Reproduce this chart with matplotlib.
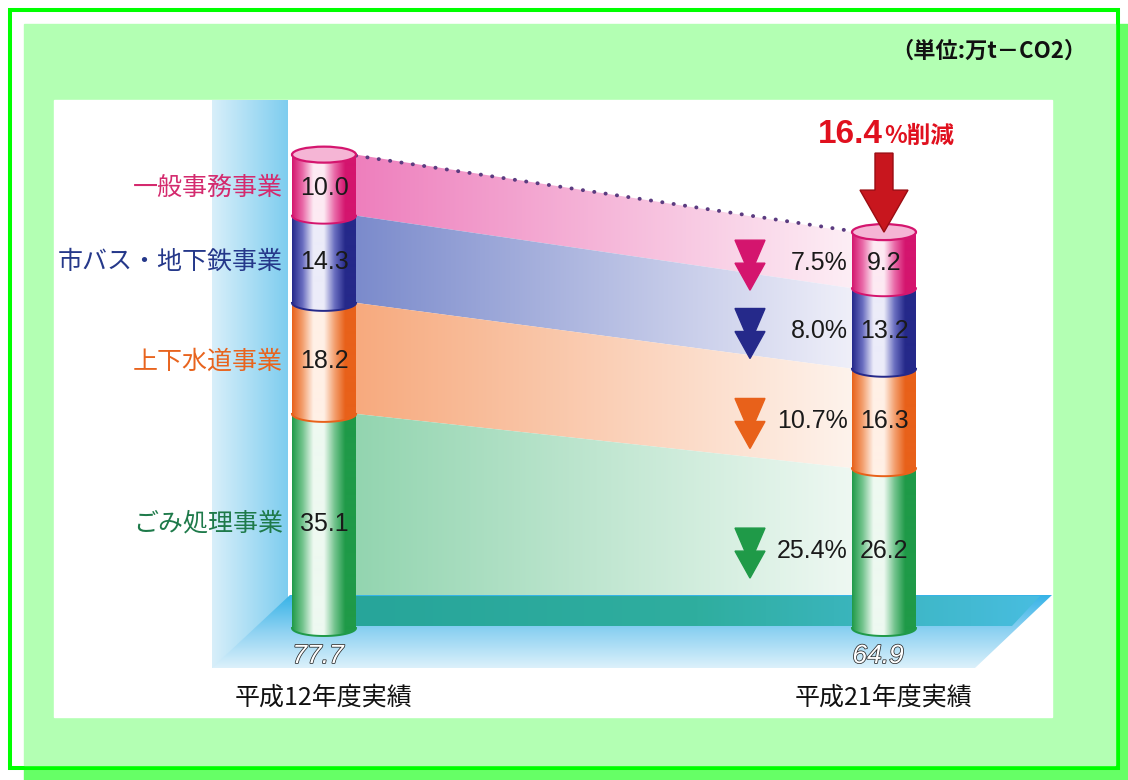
import numpy as np
import matplotlib.pyplot as plt
from matplotlib.patches import Polygon, Rectangle, Ellipse
from matplotlib.colors import LinearSegmentedColormap
import matplotlib.patheffects as pe

# dane (万t-CO2)
categories = ['一般事務事業', '市バス・地下鉄事業', '上下水道事業', 'ごみ処理事業']
years = ['平成12年度実績', '平成21年度実績']
values_h12 = [10.0, 14.3, 18.2, 35.1]
values_h21 = [9.2, 13.2, 16.3, 26.2]
totals = [77.7, 64.9]
cut_pct = [7.5, 8.0, 10.7, 25.4]
total_cut = 16.4
unit_label = '（単位:万t－CO2）'

# kolory
dark = ['#d4156e', '#25298a', '#e8611a', '#1f9a48']
mid = ['#e96aa8', '#6a6ec0', '#f3a070', '#74c48e']
light = ['#fdeaf3', '#ececf9', '#fff0e6', '#eef9f1']
band_left = ['#ee7fbd', '#7b8bcc', '#f7aa7e', '#93d5b0']
band_right = ['#fdeef5', '#efeff9', '#fef3ec', '#eef8f2']
label_col = ['#d42a6e', '#25388a', '#e8641e', '#1e7a4a']

CJK = ['Noto Sans CJK JP', 'DejaVu Sans']
NUM = ['Liberation Sans', 'DejaVu Sans']

# uklad (piksele)
scale = 6.1
base = 628
cxs = [324, 884]
rx, ry = 32, 8

fig = plt.figure(figsize=(11.28, 7.8), dpi=100)
ax = fig.add_axes([0, 0, 1, 1])
ax.axis('off')


def grad_fill(patch, x0, x1, y0, y1, colors, horizontal=True, z=3):
    patch.set_facecolor('none')
    patch.set_edgecolor('none')
    patch.set_zorder(z)
    ax.add_patch(patch)
    cmap = LinearSegmentedColormap.from_list('g', colors)
    arr = np.linspace(0, 1, 256)
    arr = arr.reshape(1, -1) if horizontal else arr.reshape(-1, 1)
    im = ax.imshow(arr, cmap=cmap, extent=(x0, x1, y1, y0), aspect='auto',
                   zorder=z, interpolation='bilinear')
    im.set_clip_path(patch)


#tlo ramki
ax.add_patch(Rectangle((24, 24), 1104, 756, color='#66ff66', zorder=0))
ax.add_patch(Rectangle((10, 10), 1108, 758, facecolor='white', edgecolor='#00ff00', lw=2.9, zorder=0.5))
ax.add_patch(Rectangle((24, 24), 1091, 741, color='#b3ffb3', zorder=0.6))
ax.add_patch(Rectangle((54, 100), 998, 617, color='white', zorder=0.7))

#sciana i podloga
grad_fill(Rectangle((212, 100), 76, 568), 212, 288, 100, 668, ['#d8effa', '#7ecdef'], z=1)
grad_fill(Polygon([(290, 595), (1052, 595), (975, 668), (212, 668)]), 212, 1052, 595, 668,
          ['#36b3e7', '#8fd2f2', '#dcf1fb'], horizontal=False, z=4)

# szczyty slupkow
tops_l = base - np.cumsum([0] + values_h12[::-1])[::-1] * scale
tops_r = base - np.cumsum([0] + values_h21[::-1])[::-1] * scale

#pasma miedzy slupkami
xl, xr = cxs[0] + rx, cxs[1] - rx
for i in range(4):
    poly = Polygon([(xl, tops_l[i]), (xr, tops_r[i]), (xr, tops_r[i + 1]), (xl, tops_l[i + 1])])
    grad_fill(poly, xl, xr, 0, 780, [band_left[i], band_right[i]], z=3)

grad_fill(Polygon([(xl, 596), (1040, 596), (1012, 626), (xl, 626)]), xl, 1040, 596, 626,
          ['#27a59a', '#2fae9f', '#48bde0'], z=4.5)

ax.plot([xl, xr], [tops_l[0] + 1, tops_r[0] - 1], color='#5b3b80', lw=2.8,
        linestyle=(0, (0.05, 2.9)), dash_capstyle='round', zorder=6)

#cylindry
th = np.linspace(np.pi, 0, 60)
xs_unit = np.cos(th)
for k, (cx, tops, vals) in enumerate(zip(cxs, [tops_l, tops_r], [values_h12, values_h21])):
    xs = cx + rx * xs_unit
    for i in range(4):
        yt, yb = tops[i], tops[i + 1]
        pts = np.vstack([np.column_stack([xs, yt + ry * np.sin(th)]),
                         np.column_stack([xs[::-1], yb + ry * np.sin(th[::-1])])])
        cmap_cols = [dark[i], mid[i], light[i], light[i], mid[i], dark[i], dark[i]]
        grad_fill(Polygon(pts), cx - rx, cx + rx, 0, 780, cmap_cols, z=7)
        ax.plot(xs, yb + ry * np.sin(th), color=dark[i], lw=1.4, zorder=7.5)
        ax.text(cx, (yt + yb) / 2 + 3, f'{vals[i]:.1f}', ha='center', va='center',
                fontsize=18, family=NUM, color='#1a1a1a', zorder=9)
    ax.add_patch(Ellipse((cx, tops[0]), 2 * rx, 2 * ry, facecolor='#f5b5d5',
                         edgecolor=dark[0], lw=1.6, zorder=8))
    ax.text(cx - 6, 656, f'{totals[k]:.1f}', ha='center', va='center', fontsize=19,
            family=NUM, style='italic', color='white', zorder=9,
            path_effects=[pe.Stroke(linewidth=1.1, foreground='#2a2a2a'), pe.Normal()])
    ax.text(cx, 698, years[k], ha='center', va='center', fontsize=18, family=CJK,
            color='#111111', zorder=9)

#etykiety kategorii
for i in range(4):
    yc = (tops_l[i] + tops_l[i + 1]) / 2 + 3
    ax.text(283, yc, categories[i], ha='right', va='center', fontsize=18,
            family=CJK, color=label_col[i], zorder=9)

#strzalki i procenty
ax_c = 750
for i in range(4):
    yc = (tops_r[i] + tops_r[i + 1]) / 2 + 3
    ax.add_patch(Polygon([(ax_c - 15, yc - 23), (ax_c + 15, yc - 23), (ax_c, yc + 12)],
                         color=dark[i], zorder=8))
    ax.add_patch(Polygon([(ax_c - 15, yc), (ax_c + 15, yc), (ax_c, yc + 27)],
                         color=dark[i], zorder=8))
    ax.text(848, yc, f'{cut_pct[i]:.1f}%', ha='right', va='center', fontsize=18,
            family=NUM, color='#1a1a1a', zorder=9)

#duza strzalka
cx, ty = cxs[1], tops_r[0]
ax.add_patch(Polygon([(cx - 9, ty - 79), (cx + 9, ty - 79), (cx + 9, ty - 42), (cx + 24, ty - 42),
                      (cx, ty), (cx - 24, ty - 42), (cx - 9, ty - 42)],
                     facecolor='#c8161e', edgecolor='#9a0c12', lw=1, zorder=9))
ax.text(883, 143, f'{total_cut}', ha='right', va='baseline', fontsize=24, weight='bold',
        family=NUM, color='#e0101e', zorder=9)
ax.text(884, 143, '%削減', ha='left', va='baseline', fontsize=17, weight='bold',
        family=CJK, color='#e0101e', zorder=9)

# jednostka
ax.text(989, 51, unit_label, ha='center', va='center', fontsize=16, weight='bold',
        family=CJK, color='#111111', zorder=9)

ax.set_xlim(0, 1128)
ax.set_ylim(780, 0)
fig.savefig('out.png', dpi=100, facecolor='white')
